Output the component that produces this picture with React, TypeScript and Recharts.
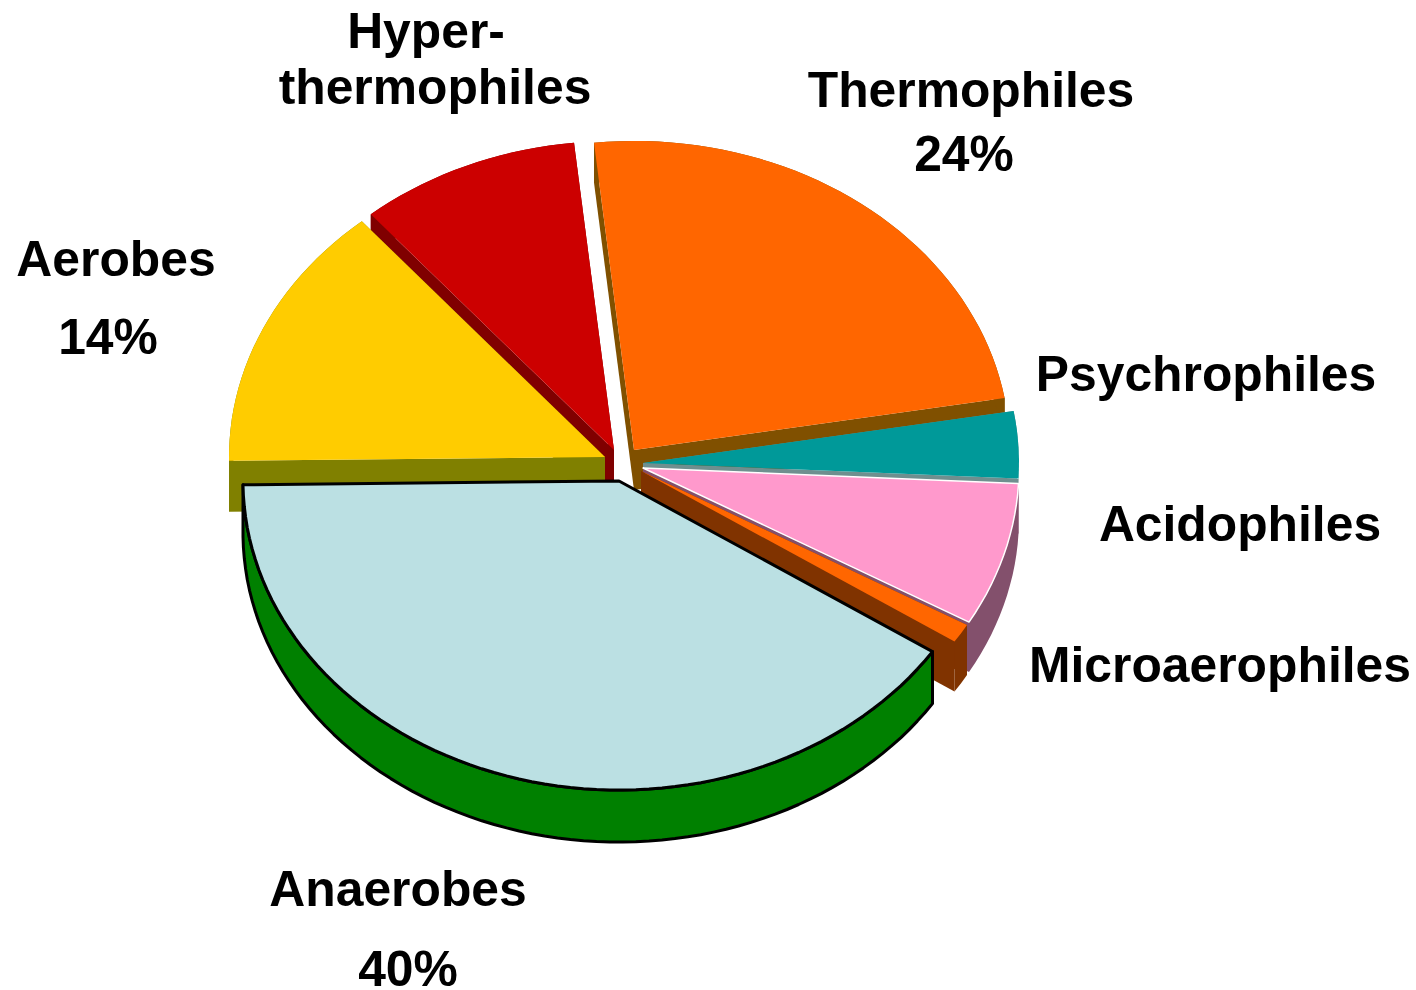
import React from 'react';
import { PieChart, Pie } from 'recharts';

const names = ['Aerobes', 'Hyperthermophiles', 'Thermophiles', 'Psychrophiles', 'Acidophiles', 'Microaerophiles', 'Anaerobes'];
const shares = [14, 9.5, 24, 3.5, 7.5, 1, 40.5];

const faceColors = ['#ffcc00', '#cc0000', '#ff6600', '#009999', '#ff99cc', '#ff6600', '#bbe0e3'];
const wallColors = ['#808000', '#800000', '#805000', '#6f8f8f', '#83506c', '#803300', '#008000'];
const edgeColors = ['none', 'none', 'none', 'none', '#ffffff', 'none', '#000000'];
const edgeWidths = [0, 0, 0, 0, 1.5, 0, 3];
// explode offset of each slice from the pie centre
const shiftX = [-15, -6, 14, 23, 23, 21, -1];
const shiftY = [-8, -15, -15, -2, 3, 6, 16];
const depths = [51, 40, 40, 6, 50, 50, 52];
// back to front
const drawOrder = [2, 1, 0, 3, 4, 5, 6];

const squash = 0.822;
const labels = [
  { text: 'Hyper-', x: 426, y: 48 },
  { text: 'thermophiles', x: 435, y: 104 },
  { text: 'Thermophiles', x: 971, y: 107 },
  { text: '24%', x: 964, y: 171 },
  { text: 'Psychrophiles', x: 1206, y: 391 },
  { text: 'Acidophiles', x: 1240, y: 541 },
  { text: 'Microaerophiles', x: 1220, y: 682 },
  { text: 'Aerobes', x: 116, y: 276 },
  { text: '14%', x: 108, y: 354 },
  { text: 'Anaerobes', x: 398, y: 906 },
  { text: '40%', x: 408, y: 986 },
];

const tableData = names.map((name, i) => ({ name, value: shares[i] }));

const SliceShape = (props: any, layer: number) => {
  const { index, cx, cy, outerRadius, startAngle, endAngle } = props;
  if (index !== layer) return <g />;
  const ox = cx + shiftX[layer];
  const oy = cy + shiftY[layer];
  const depth = depths[layer];
  const pts: [number, number][] = [];
  const steps = Math.max(2, Math.ceil(Math.abs(endAngle - startAngle) / 2));
  for (let s = 0; s <= steps; s++) {
    const a = ((startAngle + ((endAngle - startAngle) * s) / steps) * Math.PI) / 180;
    pts.push([ox + outerRadius * Math.cos(a), oy - outerRadius * squash * Math.sin(a)]);
  }
  const line = (list: [number, number][]) => list.map((p) => `${p[0].toFixed(1)},${p[1].toFixed(1)}`).join(' ');
  const down = (list: [number, number][]) => list.map((p): [number, number] => [p[0], p[1] + depth]);
  const first = pts[0];
  const last = pts[pts.length - 1];
  const tip: [number, number] = [ox, oy];
  const wall = wallColors[layer];
  const stroke = layer === 6 ? '#000000' : 'none';
  return (
    <g>
      <polygon points={line([tip, first, ...down([first]), ...down([tip])])} fill={wall} />
      <polygon points={line([tip, last, ...down([last]), ...down([tip])])} fill={wall} />
      <polygon points={line([...pts, ...down(pts).reverse()])} fill={wall} stroke={stroke} strokeWidth={3} strokeLinejoin="round" />
      <polygon points={line([tip, ...pts])} fill={faceColors[layer]} stroke={edgeColors[layer]} strokeWidth={edgeWidths[layer]} strokeLinejoin="round" />
    </g>
  );
};

export default function App() {
  return (
    <div style={{ position: 'absolute', left: 0, top: 0, width: 1416, height: 990 }}>
      <PieChart width={1416} height={990} margin={{ top: 0, right: 0, bottom: 0, left: 0 }}>
        {drawOrder.map((layer) => (
          <Pie
            key={names[layer]}
            data={tableData}
            dataKey="value"
            nameKey="name"
            cx={620}
            cy={465}
            outerRadius={376}
            startAngle={180.7}
            endAngle={-179.3}
            stroke="none"
            isAnimationActive={false}
            shape={(props: any) => SliceShape(props, layer)}
          />
        ))}
        {labels.map((l) => (
          <text
            key={l.text}
            x={l.x}
            y={l.y}
            textAnchor="middle"
            fontFamily="Liberation Sans"
            fontWeight="bold"
            fontSize={49.8}
            fill="#000000"
          >
            {l.text}
          </text>
        ))}
      </PieChart>
    </div>
  );
}
